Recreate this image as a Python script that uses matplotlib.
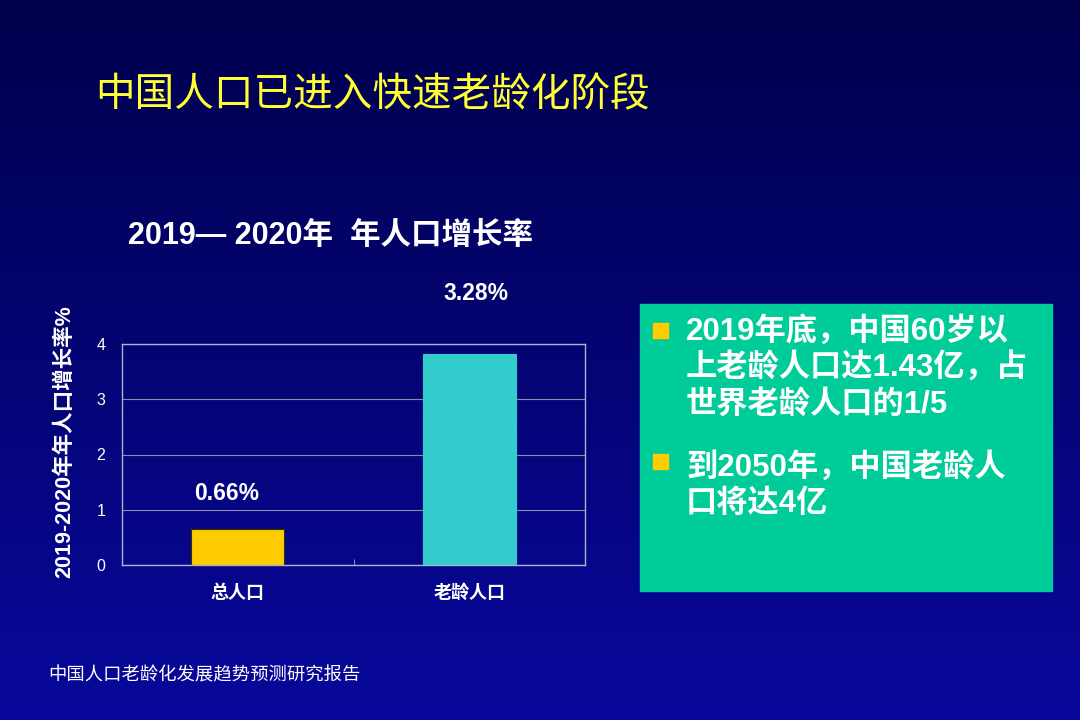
import numpy as np
import matplotlib
matplotlib.use("Agg")
import matplotlib.pyplot as plt
from matplotlib.patches import Rectangle

plt.rcParams['font.family'] = ['Liberation Sans', 'Noto Sans CJK SC', 'DejaVu Sans']

categories = ['总人口', '老龄人口']
bar_values = [0.66, 3.82]
bar_labels = ['0.66%', '3.28%']
bar_colors = ['#FFCC00', '#33CCCC']
yticks = [0, 1, 2, 3, 4]

page_title = '中国人口已进入快速老龄化阶段'
chart_title = '2019— 2020年  年人口增长率'
ylabel = '2019-2020年年人口增长率%'
bullets = [['2019年底，中国60岁以', '上老龄人口达1.43亿，占', '世界老龄人口的1/5'],
           ['到2050年，中国老龄人', '口将达4亿']]
source = '中国人口老龄化发展趋势预测研究报告'

W, H = 1080, 720
fig = plt.figure(figsize=(W / 100, H / 100), dpi=100)

# gradient background, dark navy at top to blue at bottom
bg = fig.add_axes([0, 0, 1, 1])
grad = np.linspace(0, 1, 256).reshape(-1, 1)
top = np.array([0x00, 0x00, 0x4C]) / 255
bot = np.array([0x08, 0x08, 0x9C]) / 255
img = top + (bot - top) * grad[..., None]
bg.imshow(img, aspect='auto', extent=[0, W, H, 0])
bg.set_xlim(0, W)
bg.set_ylim(H, 0)
bg.axis('off')

bg.text(95, 95, page_title, color='#FFFF33', fontsize=28.5,
        family=['Noto Sans CJK SC'], va='center', ha='left')
bg.text(128, 236, chart_title, color='white', fontsize=22,
        fontweight='bold', va='center', ha='left')
bg.text(48, 676, source, color='white', fontsize=13.2,
        va='center', ha='left')

# green info box
bg.add_patch(Rectangle((640, 304), 412, 287, color='#00CC99', zorder=2))
starts = [331, 467]
bullet_y = [330, 461]
for ys, yb, lines in zip(starts, bullet_y, bullets):
    bg.add_patch(Rectangle((653, yb - 7.5), 15, 15, color='#FFCC00', zorder=3))
    for i, line in enumerate(lines):
        bg.text(686, ys + 37 * i, line, color='white', fontsize=22.5,
                fontweight='bold', va='center', ha='left', zorder=3)

# bar chart
ax = fig.add_axes([122 / W, 1 - 565 / H, (585 - 122) / W, (565 - 344) / H])
ax.set_facecolor('none')
x = np.arange(len(categories))
ax.bar(x, bar_values, width=0.4, color=bar_colors, edgecolor=['#333300', '#33CCCC'],
       linewidth=0.8, zorder=3)
ax.set_xlim(-0.5, 1.5)
ax.set_ylim(0, 4)
ax.set_yticks(yticks)
ax.set_xticks(x)
ax.set_xticklabels(categories)
ax.set_xticks([0.5], minor=True)
ax.tick_params(axis='x', which='major', length=0, colors='white', labelsize=13, pad=13)
ax.tick_params(axis='x', which='minor', length=4, direction='in', color='#AAAACC')
ax.tick_params(axis='y', length=0, colors='white', labelsize=11.5, pad=12)
for lab in ax.get_xticklabels():
    lab.set_family(['Noto Sans CJK SC'])
    lab.set_fontweight('bold')
ax.grid(axis='y', color='#8C8CAA', linewidth=0.8, zorder=0)
for s in ax.spines.values():
    s.set_color('#B0B0D0')
    s.set_linewidth(1)

ax.text(x[0] - 0.05, 1.3, bar_labels[0], color='white', fontsize=16.5,
        fontweight='bold', ha='center', va='center')
ax.text(x[1] + 0.03, 4.92, bar_labels[1], color='white', fontsize=16.5,
        fontweight='bold', ha='center', va='center', clip_on=False)

ax.set_ylabel(ylabel, color='white', fontsize=15.5, fontweight='bold')
ax.yaxis.set_label_coords(-0.10, 0.56)

fig.savefig('out.png', dpi=100)
